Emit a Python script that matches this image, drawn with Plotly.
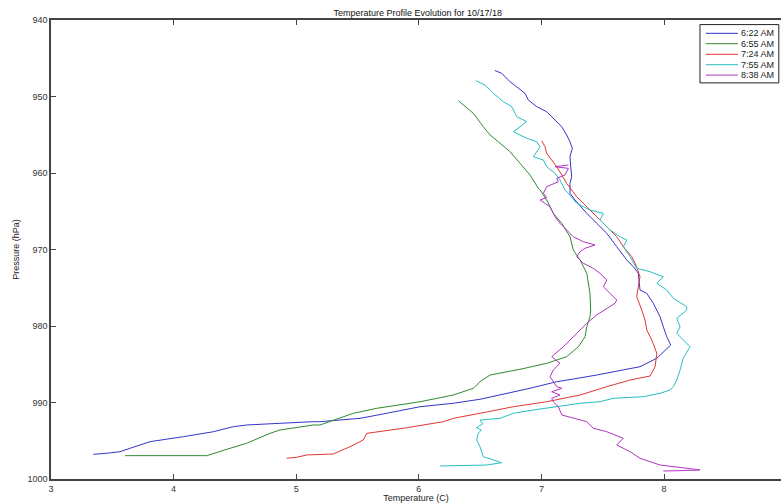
import plotly.graph_objects as go

# 6:22 AM
t_622 = [6.62, 6.676, 6.744, 6.825, 6.866, 6.893, 6.962, 7.043, 7.111, 7.166, 7.206, 7.233, 7.252, 7.233, 7.239, 7.247,
         7.233, 7.233, 7.274, 7.370, 7.451, 7.533, 7.614, 7.696, 7.750, 7.790, 7.804, 7.859, 7.913, 7.941, 7.967, 7.994,
         8.022, 8.055, 7.941, 7.804, 7.668, 7.451, 7.260, 7.125, 6.907, 6.717, 6.499, 6.281, 6.010, 5.738, 5.520, 5.194,
         5.139, 4.868, 4.596, 4.487, 4.324, 4.079, 3.808, 3.644, 3.563, 3.454, 3.345]
p_622 = [946.6, 946.97, 948.07, 949.15, 949.58, 950.46, 951.33, 951.99, 953.07, 953.95, 955.03, 955.91, 956.77, 957.87,
         959.18, 960.48, 961.35, 962.65, 963.53, 965.27, 966.58, 967.88, 969.63, 971.37, 972.25, 973.11, 975.29, 975.73,
         977.03, 977.91, 978.78, 980.09, 981.40, 982.48, 984.22, 985.32, 985.75, 986.41, 986.93, 987.28, 988.14, 988.80,
         989.58, 990.10, 990.55, 991.41, 992.07, 992.51, 992.51, 992.72, 992.94, 993.16, 993.82, 994.47, 995.12, 995.99,
         996.43, 996.64, 996.77]

# 6:55 AM
t_655 = [6.322, 6.363, 6.445, 6.526, 6.581, 6.648, 6.744, 6.825, 6.907, 6.975, 6.989, 7.043, 7.097, 7.166, 7.233, 7.260,
         7.315, 7.370, 7.396, 7.402, 7.396, 7.370, 7.356, 7.301, 7.206, 7.043, 6.825, 6.581, 6.499, 6.445, 6.281, 6.010,
         5.657, 5.466, 5.194, 5.139, 4.868, 4.786, 4.596, 4.460, 4.270, 3.604]
p_655 = [950.55, 951.11, 952.20, 953.95, 955.03, 955.91, 957.22, 958.73, 960.26, 962.0, 962.22, 963.53, 965.27, 966.58,
         968.33, 970.07, 971.37, 973.11, 975.73, 977.91, 978.78, 980.09, 981.40, 982.71, 984.01, 984.88, 985.66, 986.41,
         987.28, 988.14, 989.02, 989.90, 990.76, 991.41, 992.94, 992.94, 993.59, 994.03, 995.33, 995.99, 996.95, 996.95]

# 7:24 AM
t_724 = [7.002, 7.029, 7.043, 7.084, 7.125, 7.166, 7.206, 7.247, 7.288, 7.370, 7.451, 7.533, 7.614, 7.668, 7.737, 7.777,
         7.804, 7.790, 7.777, 7.818, 7.845, 7.859, 7.900, 7.941, 7.927, 7.886, 7.723, 7.533, 7.315, 7.043, 6.771, 6.499,
         6.281, 6.200, 5.874, 5.575, 5.547, 5.439, 5.303, 5.086, 5.004, 4.922]
p_724 = [955.78, 956.56, 957.42, 958.30, 959.18, 960.26, 961.35, 962.22, 963.10, 964.41, 965.71, 967.02, 968.33, 969.63,
         970.94, 972.25, 973.56, 974.86, 976.17, 977.91, 979.22, 980.52, 981.83, 983.57, 985.32, 986.54, 987.06, 987.93,
         989.02, 989.90, 990.55, 991.41, 992.07, 992.51, 993.37, 994.03, 994.90, 995.78, 996.73, 996.86, 997.16, 997.29]

# 7:55 AM
t_755 = [6.464, 6.540, 6.608, 6.689, 6.758, 6.799, 6.880, 6.771, 6.880, 6.962, 6.989, 6.934, 7.016, 7.043, 7.111, 7.152,
         7.192, 7.220, 7.288, 7.396, 7.505, 7.478, 7.560, 7.641, 7.696, 7.668, 7.723, 7.777, 7.886, 7.994, 7.941, 8.022,
         8.076, 8.185, 8.185, 8.104, 8.131, 8.104, 8.212, 8.157, 8.131, 8.104, 8.076, 8.049, 7.967, 7.831, 7.586, 7.478,
         7.315, 7.206, 7.043, 6.934, 6.771, 6.662, 6.499, 6.52, 6.47, 6.51, 6.485, 6.472, 6.499, 6.526, 6.608, 6.676,
         6.553, 6.173]
p_755 = [947.93, 948.50, 949.58, 950.68, 951.33, 952.64, 953.29, 954.60, 955.46, 955.91, 956.56, 957.87, 958.30, 959.18,
         960.04, 960.92, 962.22, 962.65, 963.96, 964.84, 965.27, 966.14, 967.45, 968.33, 968.76, 969.63, 970.94, 972.46,
         972.90, 973.56, 974.42, 975.29, 976.38, 977.48, 977.91, 979.0, 980.09, 980.95, 982.71, 984.22, 985.75, 987.06,
         987.93, 988.37, 988.80, 989.24, 989.45, 989.90, 990.10, 990.33, 990.76, 990.98, 991.41, 992.07, 992.29, 992.8,
         993.3, 993.6, 994.03, 994.90, 995.78, 997.08, 997.52, 997.87, 998.17, 998.30]

# 8:38 AM
t_838 = [7.220, 7.111, 7.220, 7.192, 7.125, 7.138, 7.043, 7.016, 7.043, 6.989, 7.070, 7.111, 7.152, 7.206, 7.260, 7.342,
         7.437, 7.356, 7.315, 7.288, 7.342, 7.423, 7.478, 7.533, 7.505, 7.560, 7.614, 7.600, 7.533, 7.451, 7.370, 7.288,
         7.233, 7.179, 7.084, 7.152, 7.097, 7.070, 7.125, 7.166, 7.084, 7.152, 7.084, 7.097, 7.138, 7.166, 7.370, 7.423,
         7.533, 7.668, 7.614, 7.723, 7.804, 7.967, 8.185, 8.294, 8.131, 7.994]
p_838 = [958.95, 959.18, 959.39, 960.26, 960.69, 961.14, 961.79, 962.65, 963.2, 963.53, 964.41, 965.71, 966.58, 967.45,
         968.33, 968.98, 969.41, 969.84, 970.29, 970.94, 971.80, 972.46, 973.11, 973.99, 974.86, 975.73, 976.60, 977.03,
         977.69, 978.56, 979.65, 980.95, 981.83, 982.71, 984.01, 984.88, 985.75, 986.63, 987.93, 988.14, 988.59, 989.02,
         989.45, 989.90, 990.55, 991.63, 992.51, 993.37, 993.82, 994.68, 995.56, 996.43, 997.29, 998.17, 998.60, 998.82,
         998.91, 998.95]

series_names = ["6:22 AM", "6:55 AM", "7:24 AM", "7:55 AM", "8:38 AM"]
series_t = [t_622, t_655, t_724, t_755, t_838]
series_p = [p_622, p_655, p_724, p_755, p_838]
colors = ["#3535c8", "#2e8b2e", "#e03535", "#25c0c0", "#b035c0"]

x_ticks = [3, 4, 5, 6, 7, 8]
y_ticks = [940, 950, 960, 970, 980, 990, 1000]

fig = go.Figure()
for name, t, p, c in zip(series_names, series_t, series_p, colors):
    fig.add_trace(go.Scatter(x=t, y=p, mode="lines", name=name, showlegend=False,
                             line=dict(color=c, width=1)))

# custom compact legend (MATLAB style)
shapes = [dict(type="rect", xref="paper", yref="paper", x0=0.889, x1=0.997, y0=0.863, y1=0.990,
               line=dict(color="#222", width=1), fillcolor="white", layer="above")]
annotations = []
row_y = [0.971, 0.9484, 0.9253, 0.9026, 0.880]
for name, c, ry in zip(series_names, colors, row_y):
    shapes.append(dict(type="line", xref="paper", yref="paper", x0=0.897, x1=0.941, y0=ry, y1=ry,
                       line=dict(color=c, width=1), layer="above"))
    annotations.append(dict(xref="paper", yref="paper", x=0.943, y=ry, text=name, showarrow=False,
                            xanchor="left", yanchor="middle", font=dict(size=9, color="#222")))

font_family = "Liberation Sans, Arial, sans-serif"
fig.update_layout(
    width=781, height=503,
    margin=dict(l=51, r=0, t=20, b=24),
    paper_bgcolor="white", plot_bgcolor="white",
    font=dict(family=font_family, size=9, color="#222"),
    title=dict(text="Temperature Profile Evolution for 10/17/18", x=0.535, xanchor="center",
               y=0.974, yanchor="middle", font=dict(size=9, color="#111")),
    showlegend=False,
    shapes=shapes,
    annotations=annotations,
    yaxis2=dict(overlaying="y", side="right", range=[1000, 940], tickvals=y_ticks, ticks="inside",
                ticklen=5, tickcolor="#444", showticklabels=False, showline=False, showgrid=False,
                zeroline=False),
)
fig.update_xaxes(range=[3, 8.954], tickvals=x_ticks, ticks="inside", ticklen=5,
                 showline=True, linecolor="#444", linewidth=1.5, mirror="ticks",
                 showgrid=False, zeroline=False, tickfont=dict(size=9, color="#333"),
                 title=dict(text="Temperature (C)", font=dict(size=9, color="#222"), standoff=2))
fig.update_yaxes(selector=dict(anchor="x"), range=[1000, 940], tickvals=y_ticks, ticks="inside", ticklen=5,
                 showline=True, linecolor="#444", linewidth=1.5, mirror=False,
                 showgrid=False, zeroline=False, tickfont=dict(size=9, color="#333"),
                 title=dict(text="Pressure (hPa)", font=dict(size=9, color="#222"), standoff=6))
fig.layout.yaxis.update(range=[1000, 940], tickvals=y_ticks, ticks="inside", ticklen=5,
                        showline=True, linecolor="#444", linewidth=1.5, mirror=False,
                        showgrid=False, zeroline=False, tickfont=dict(size=9, color="#333"),
                        title=dict(text="Pressure (hPa)", font=dict(size=9, color="#222"), standoff=6))

fig.write_html("out.html")
